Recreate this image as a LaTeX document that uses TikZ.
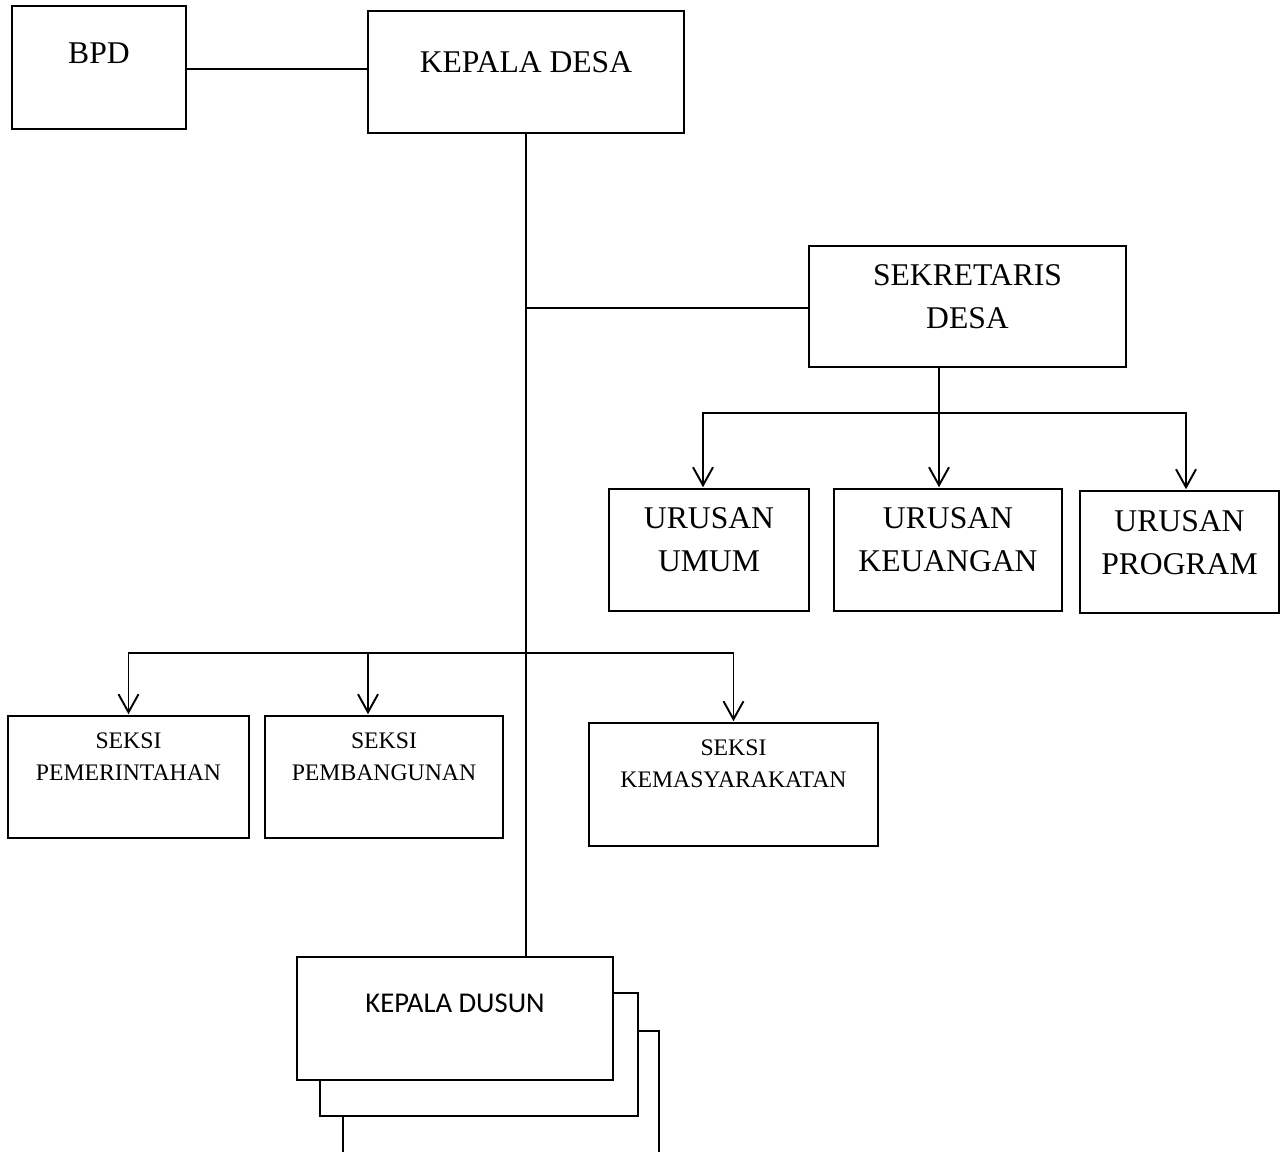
\documentclass[tikz,border=0pt]{standalone}
\usepackage{fontspec}
\setmainfont{Liberation Serif}
\newfontfamily\dusunfont{Carlito}
\usetikzlibrary{arrows.meta}

\begin{document}
\begin{tikzpicture}[x=0.02cm,y=-0.02cm]

        \tikzset{
            box/.style={draw, line width=0.9pt, fill=white, inner sep=0pt},
            txt/.style={inner sep=0pt, anchor=north, align=center},
            txt_big/.style={txt, font=\fontsize{18}{24.5}\selectfont},
            txt_small/.style={txt, font=\fontsize{13.5}{18.2}\selectfont},
            txt_dusun/.style={txt, font=\dusunfont\fontsize{16.3}{20}\selectfont},
            link/.style={-, line width=1.1pt},
            arrow/.style={link, -{Straight Barb[length=0.36cm,width=0.4cm]}, shorten >=0.02cm}
        }

        \useasboundingbox (0,0) rectangle (1281,1152);

        \node[box, minimum width=3.48cm, minimum height=2.46cm, label={[txt_big, yshift=-0.75cm]north:BPD}] (bpd) at (99, 67.5) {};
        \node[box, minimum width=6.32cm, minimum height=2.44cm, label={[txt_big, yshift=-0.82cm]north:KEPALA DESA}] (kades) at (526, 72) {};
        \node[box, minimum width=6.34cm, minimum height=2.42cm, label={[txt_big, yshift=-0.37cm]north:{SEKRETARIS\\DESA}}] (sekdes) at (967.5, 306.5) {};

        \node[box, minimum width=4cm, minimum height=2.44cm, label={[txt_big, yshift=-0.37cm]north:{URUSAN\\UMUM}}] (umum) at (709, 550) {};
        \node[box, minimum width=4.56cm, minimum height=2.44cm, label={[txt_big, yshift=-0.37cm]north:{URUSAN\\KEUANGAN}}] (keu) at (948, 550) {};
        \node[box, minimum width=3.98cm, minimum height=2.44cm, label={[txt_big, yshift=-0.39cm]north:{URUSAN\\PROGRAM}}] (prog) at (1179.5, 552) {};

        \node[box, minimum width=4.82cm, minimum height=2.44cm, label={[txt_small, yshift=-0.34cm]north:{SEKSI\\PEMERINTAHAN}}] (pem) at (128.5, 777) {};
        \node[box, minimum width=4.76cm, minimum height=2.44cm, label={[txt_small, yshift=-0.34cm]north:{SEKSI\\PEMBANGUNAN}}] (pemb) at (384, 777) {};
        \node[box, minimum width=5.78cm, minimum height=2.46cm, label={[txt_small, yshift=-0.34cm]north:{SEKSI\\KEMASYARAKATAN}}] (kemas) at (733.5, 784.5) {};

        \node[box, minimum width=6.32cm, minimum height=2.46cm] (kadus3) at (501, 1092.5) {};
        \node[box, minimum width=6.36cm, minimum height=2.46cm] (kadus2) at (479, 1054.5) {};
        \node[box, minimum width=6.32cm, minimum height=2.46cm, label={[txt_dusun, yshift=-0.74cm]north:KEPALA DUSUN}] (kadus) at (455, 1018.5) {};

        \draw[link] (bpd.east |- 0,69) -- (kades.west |- 0,69);
        \draw[link] (kades.south) -- (kades.south |- kadus.north);
        \draw[link] (kades.south |- 0,308) -- (sekdes.west |- 0,308);

        \coordinate (urfork) at (939, 413);
        \draw[link] (urfork |- sekdes.south) -- (urfork);
        \foreach \n/\x in {umum/703, keu/939, prog/1186} {
            \draw[arrow] (urfork) -| (\n.north -| \x,0);
        }

        \coordinate (seksifork) at (kades.south |- 0,653);
        \foreach \n in {pem, kemas} {
            \draw[arrow] (seksifork) -| (\n.north);
        }
        \draw[arrow] (seksifork -| 368,0) -- (pemb.north -| 368,0);

    \end{tikzpicture}
\end{document}
